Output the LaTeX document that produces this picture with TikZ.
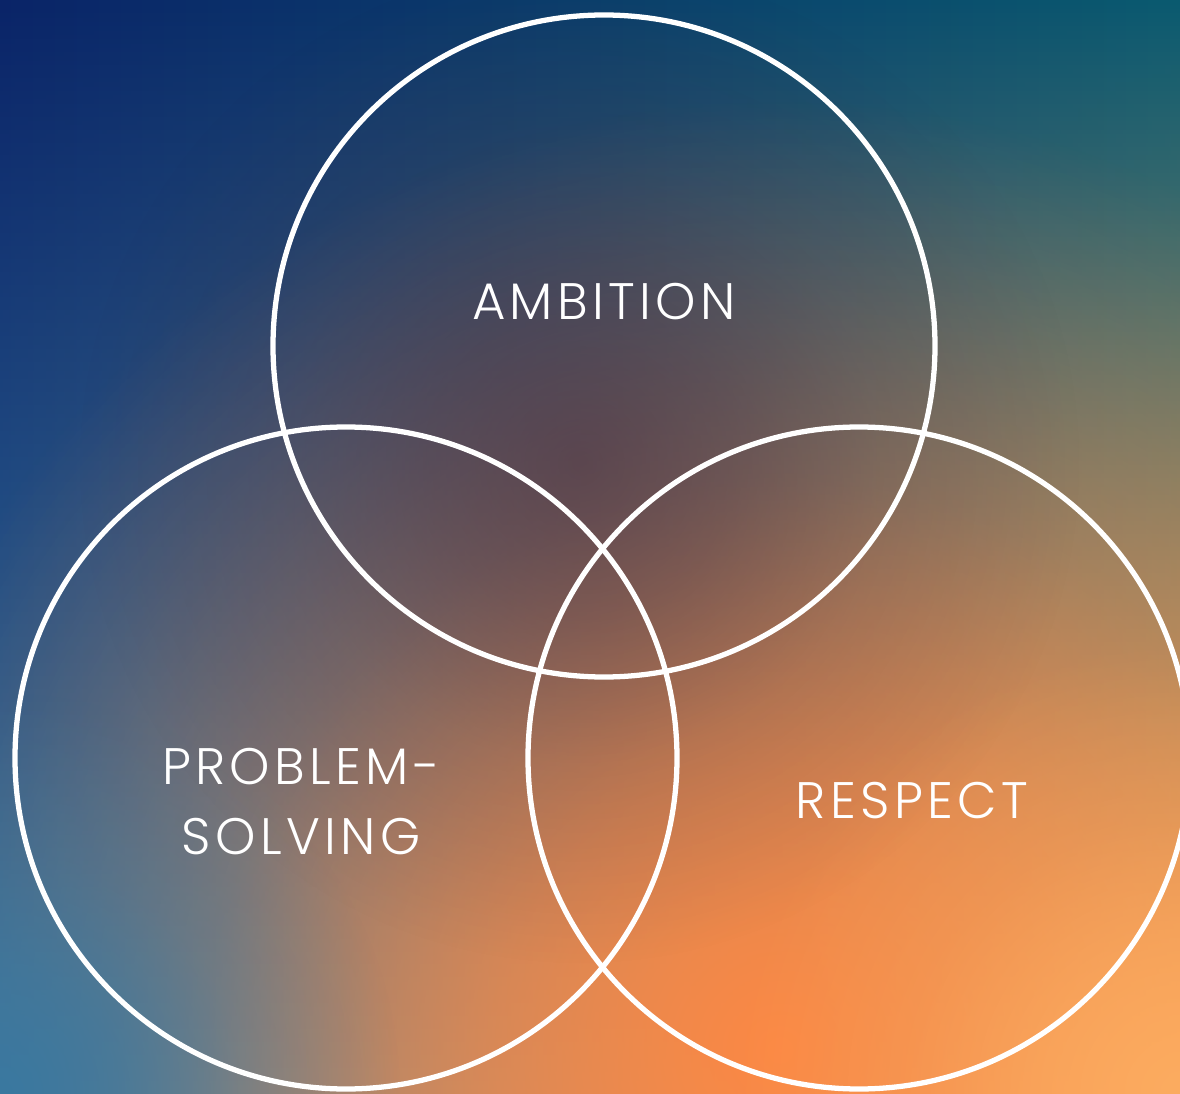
\documentclass[tikz,border=0pt]{standalone}
\usepackage{fontspec}
\usetikzlibrary{fadings}
\newfontfamily\vennfont{Poppins Light}[LetterSpace=8.5]
\definecolor{navy}{HTML}{0A2468}
\definecolor{midnight}{HTML}{0B2550}
\definecolor{teal}{HTML}{0A5A70}
\definecolor{steel}{HTML}{3A78A0}
\definecolor{mauve}{HTML}{7A3A50}
\definecolor{plum}{HTML}{46283C}
\definecolor{peach}{HTML}{FCAC60}
\definecolor{glowcol}{HTML}{FC8844}
\pgfdeclareradialshading{glowshade}{\pgfpointorigin}{color(0bp)=(white); color(7.5bp)=(black!30); color(15bp)=(black!70); color(25bp)=(black); color(50bp)=(black)}
\pgfdeclarefading{glow}{\pgfuseshading{glowshade}}
\begin{document}
\begin{tikzpicture}[ring/.style={circle,draw=white,line width=1.5pt,minimum size=6.62cm,inner sep=0pt},lbl/.style={text=white,font=\vennfont\fontsize{14.6}{20}\selectfont,anchor=base,inner sep=0pt}]
\useasboundingbox (0,0) rectangle (11.8,10.93);
\begin{scope}
\clip (0,0) rectangle (11.8,10.93);
\shade[left color=navy,middle color=midnight,right color=teal] (0,0) rectangle (11.8,10.93);
\shade[left color=steel,middle color=mauve,right color=peach,path fading=north] (0,0) rectangle (11.8,10.93);
\fill[glowcol,path fading=glow] (7.8,0.43) circle (9.5);%warm spot
\fill[peach,path fading=glow] (11.8,0) circle (4.5);
\fill[steel,path fading=glow] (0,0) circle (4);
\fill[plum,path fading=glow,fill opacity=0.55] (5.8,6.3) circle (5);%dark middle
\end{scope}
\node[ring] (ambition) at (6.04,7.47) {};
\node[ring] (problem) at (3.46,3.35) {};
\node[ring] (respect) at (8.59,3.35) {};
\node[lbl] (ambitionlbl) at (6.04,7.73) {AMBITION};
\node[lbl] (problemlbl) at (3.01,3.09) {PROBLEM-};
\node[lbl] (solvinglbl) at (3.01,2.39) {SOLVING};
\node[lbl] (respectlbl) at (9.12,2.75) {RESPECT};
\end{tikzpicture}
\end{document}
